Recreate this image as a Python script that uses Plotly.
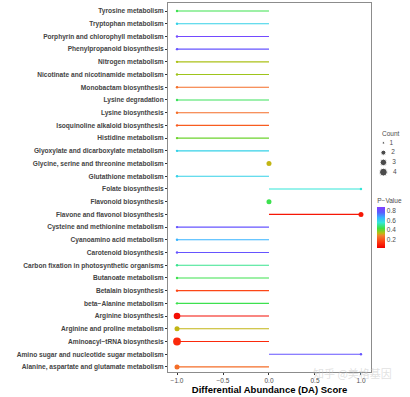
import plotly.graph_objects as go
from plotly.colors import sample_colorscale

# ---- data (bottom to top) ----
pathways = [
    "Alanine, aspartate and glutamate metabolism",
    "Amino sugar and nucleotide sugar metabolism",
    "Aminoacyl\u2212tRNA biosynthesis",
    "Arginine and proline metabolism",
    "Arginine biosynthesis",
    "beta\u2212Alanine metabolism",
    "Betalain biosynthesis",
    "Butanoate metabolism",
    "Carbon fixation in photosynthetic organisms",
    "Carotenoid biosynthesis",
    "Cyanoamino acid metabolism",
    "Cysteine and methionine metabolism",
    "Flavone and flavonol biosynthesis",
    "Flavonoid biosynthesis",
    "Folate biosynthesis",
    "Glutathione metabolism",
    "Glycine, serine and threonine metabolism",
    "Glyoxylate and dicarboxylate metabolism",
    "Histidine metabolism",
    "Isoquinoline alkaloid biosynthesis",
    "Lysine biosynthesis",
    "Lysine degradation",
    "Monobactam biosynthesis",
    "Nicotinate and nicotinamide metabolism",
    "Nitrogen metabolism",
    "Phenylpropanoid biosynthesis",
    "Porphyrin and chlorophyll metabolism",
    "Tryptophan metabolism",
    "Tyrosine metabolism",
]
da_score = [-1, 1, -1, -1, -1, -1, -1, -1, -1, -1, -1, -1, 1, 0, 1, -1,
            0, -1, -1, -1, -1, -1, -1, -1, -1, -1, -1, -1, -1]
p_value = [0.25, 0.80, 0.12, 0.33, 0.06, 0.45, 0.18, 0.45, 0.50, 0.80,
           0.66, 0.80, 0.08, 0.45, 0.56, 0.60, 0.33, 0.60, 0.40, 0.22,
           0.25, 0.46, 0.25, 0.36, 0.35, 0.80, 0.84, 0.60, 0.45]
count = [2, 1, 4, 2, 3, 1, 1, 1, 1, 1, 1, 1, 2, 2, 1, 1,
         2, 1, 1, 1, 1, 1, 1, 1, 1, 1, 1, 1, 1]

legend_counts = [1, 2, 3, 4]
p_ticks = [0.2, 0.4, 0.6, 0.8]

# ---- styles ----
size_map = {1: 2.4, 2: 5.0, 3: 6.6, 4: 7.8}
colorscale = [
    [0.00, "#f00000"],
    [0.15, "#ff3a10"],
    [0.30, "#f08030"],
    [0.36, "#bcbc10"],
    [0.48, "#3ee040"],
    [0.62, "#33e6d6"],
    [0.74, "#36b4ff"],
    [0.87, "#5c5cff"],
    [1.00, "#8040ff"],
]
cmin, cmax = 0.03, 0.88
label_col = "#4d4d4d"
font_family = "Liberation Sans, Arial, sans-serif"

def color_of(p):
    t = (p - cmin) / (cmax - cmin)
    t = min(max(t, 0), 1)
    return sample_colorscale(colorscale, [t])[0]

fig = go.Figure()

# segments
for name, d, p in zip(pathways, da_score, p_value):
    if d != 0:
        fig.add_trace(go.Scatter(
            x=[0, d], y=[name, name], mode="lines",
            line=dict(color=color_of(p), width=1.1),
            hoverinfo="skip", showlegend=False))

# points
fig.add_trace(go.Scatter(
    x=da_score, y=pathways, mode="markers",
    marker=dict(
        size=[size_map[c] for c in count],
        color=p_value, colorscale=colorscale, cmin=cmin, cmax=cmax,
        opacity=1,
        line=dict(width=0),
        colorbar=dict(
            title=dict(text="P\u2212Value", side="top",
                       font=dict(size=6.5, color=label_col, family=font_family)),
            x=0.872, xanchor="left", xpad=0,
            y=0.408, yanchor="middle",
            len=53, lenmode="pixels",
            thickness=8, outlinewidth=0,
            tickvals=p_ticks, ticks="",
            tickfont=dict(size=6.5, color=label_col, family=font_family),
            ypad=0,
        ),
    ),
    showlegend=False))

# size legend (drawn on its own small axes)
fig.add_trace(go.Scatter(
    x=[0.2] * len(legend_counts), y=legend_counts,
    mode="markers+text",
    marker=dict(size=[size_map[c] for c in legend_counts], color="black"),
    text=[f"  {c}" for c in legend_counts], textposition="middle right",
    textfont=dict(size=6.5, color=label_col, family=font_family),
    xaxis="x2", yaxis="y2", showlegend=False, hoverinfo="skip"))

W, H = 410, 397
ml, mr, mt, mb = 168, 2, 3, 25
pw = W - ml - mr
ph = H - mt - mb

def px_x(x):
    return (x - ml) / pw

def px_y(y):
    return (H - mb - y) / ph

fig.update_layout(
    width=W, height=H,
    margin=dict(l=ml, r=mr, t=mt, b=mb, pad=0),
    paper_bgcolor="white", plot_bgcolor="white",
    font=dict(family=font_family),
    xaxis=dict(
        domain=[0, px_x(371)],
        range=[-1.098, 1.109],
        tickvals=[-1, -0.5, 0, 0.5, 1],
        ticktext=["\u22121.0", "\u22120.5", "0.0", "0.5", "1.0"],
        tickfont=dict(size=6.5, color=label_col),
        ticks="outside", ticklen=2, tickcolor="#333333", tickwidth=0.6,
        showgrid=False, zeroline=False,
        showline=True, linecolor="#8c8c8c", linewidth=1, mirror=True,
        title=dict(text="Differential Abundance (DA) Score",
                   font=dict(size=9.5, color="black", weight="bold"),
                   standoff=2),
    ),
    yaxis=dict(
        type="category",
        categoryorder="array", categoryarray=pathways,
        range=[-0.4, 28.63],
        tickfont=dict(size=6.6, color="#444444", weight="bold"),
        ticks="outside", ticklen=2, tickcolor="#333333", tickwidth=0.6,
        showgrid=False, zeroline=False,
        showline=True, linecolor="#8c8c8c", linewidth=1, mirror=True,
    ),
    xaxis2=dict(domain=[px_x(378), px_x(405)], range=[0, 1], visible=False,
                anchor="y2", fixedrange=True),
    yaxis2=dict(domain=[px_y(177), px_y(138)], range=[4.5, 0.5], visible=False,
                anchor="x2", fixedrange=True),
    annotations=[
        dict(text="Count", x=px_x(380), y=px_y(133), xref="paper", yref="paper",
             xanchor="left", yanchor="middle", showarrow=False,
             font=dict(size=6.5, color=label_col)),
        dict(text="\u77e5\u4e4e @\u7f8e\u683c\u57fa\u56e0", x=px_x(352), y=px_y(373),
             xref="paper", yref="paper", xanchor="center", yanchor="middle",
             showarrow=False, font=dict(size=11, color="rgba(200,200,200,0.55)",
                                        family="Noto Sans CJK SC")),
    ],
)

fig.write_html("out.html", config={"displayModeBar": False},
               post_script="document.body.style.margin='0';document.body.style.padding='0';")
